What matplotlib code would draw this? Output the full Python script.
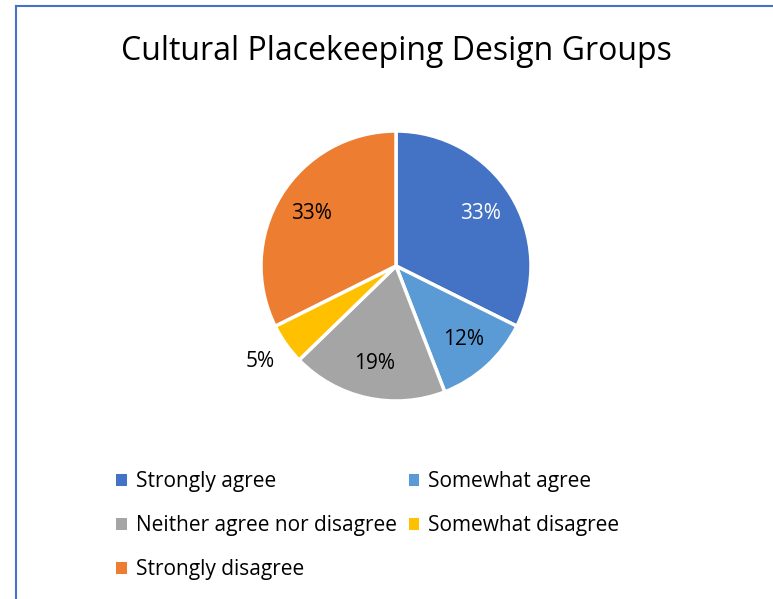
import matplotlib.pyplot as plt
from matplotlib.lines import Line2D
from matplotlib.patches import Patch
import numpy as np

plt.rcParams['font.family'] = ['Open Sans', 'DejaVu Sans']

categories = ['Strongly agree', 'Somewhat agree', 'Neither agree nor disagree',
              'Somewhat disagree', 'Strongly disagree']
values = [33, 12, 19, 5, 33]
colors = ['#4472C4', '#5B9BD5', '#A5A5A5', '#FFC000', '#ED7D31']
label_colors = ['white', 'black', 'black', 'black', 'black']

W, H = 773, 599
fig = plt.figure(figsize=(W / 100, H / 100), dpi=100)

# pie area in pixels: centre (396, 266), radius 135
cx, cy, r = 396, 266, 135
ax = fig.add_axes([(cx - r) / W, (H - cy - r) / H, 2 * r / W, 2 * r / H])
wedges, _ = ax.pie(values, colors=colors, startangle=90, counterclock=False,
                   radius=1.0, wedgeprops=dict(edgecolor='white', linewidth=2.5))
ax.set_xlim(-1, 1)
ax.set_ylim(-1, 1)
ax.set_aspect('equal')
ax.axis('off')

for w, v, c in zip(wedges, values, label_colors):
    ang = np.deg2rad((w.theta1 + w.theta2) / 2)
    d = 0.74 if v >= 10 else 1.23
    ax.text(d * np.cos(ang), d * np.sin(ang), f'{v}%', ha='center', va='center',
            fontsize=15, color=c, clip_on=False)

fig.text(396 / W, 1 - 52 / H, 'Cultural Placekeeping Design Groups',
         ha='center', va='center', fontsize=23)

# legend fills row by row in the original: reorder for matplotlib's column fill
order = [0, 2, 4, 1, 3]
handles = [Patch(facecolor=colors[i], edgecolor='none') for i in order]
labels = [categories[i] for i in order]
fig.legend(handles, labels, ncol=2, loc='upper left',
           bbox_to_anchor=(108 / W, 1 - 463 / H), frameon=False, fontsize=15,
           handlelength=0.5, handleheight=0.5, handletextpad=0.45,
           columnspacing=0.55, labelspacing=1.1, borderaxespad=0)

# chart frame (top and left edges visible)
fig.add_artist(Line2D([16 / W, 1], [1 - 6 / H, 1 - 6 / H], color='#4472C4', linewidth=1.5))
fig.add_artist(Line2D([16 / W, 16 / W], [0, 1 - 6 / H], color='#4472C4', linewidth=1.5))

fig.savefig('out.png', dpi=100)
